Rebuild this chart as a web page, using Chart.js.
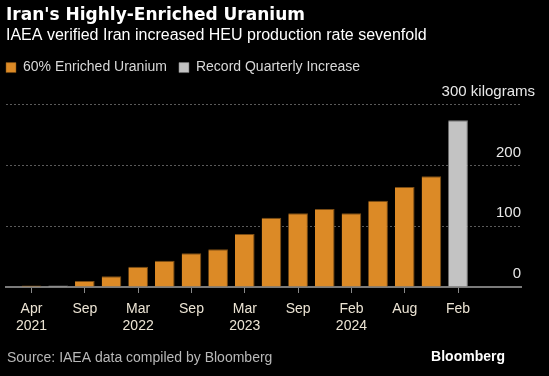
<!DOCTYPE html>
<html>
<head>
<meta charset="utf-8">
<script src="https://cdn.jsdelivr.net/npm/chart.js@4.4.1/dist/chart.umd.min.js"></script>
<style>
  html, body { margin: 0; padding: 0; background: #000; }
  #wrap { width: 549px; height: 376px; position: relative; }
  canvas { display: block; }
</style>
</head>
<body>
<div id="wrap"><canvas id="c" width="549" height="376"></canvas></div>
<script>
// ---- data ----
const periods = ["Apr 2021","Jun 2021","Sep 2021","Nov 2021","Mar 2022","May 2022","Sep 2022","Nov 2022",
                 "Mar 2023","May 2023","Sep 2023","Nov 2023","Feb 2024","May 2024","Aug 2024","Oct 2024","Feb 2025"];
const enriched = [2.4, null, 10, 17.7, 33.2, 43.1, 55.6, 62.3, 87.5, 114.1, 121.6, 128.3, 121.5, 142.1, 164.7, 182.3, null];
const recordIncrease = [null, 2.6, null, null, null, null, null, null, null, null, null, null, null, null, null, null, 274.8];
const tickIndex = [0, 2, 4, 6, 8, 10, 12, 14, 16];
const tickLabels = [["Apr","2021"],"Sep",["Mar","2022"],"Sep",["Mar","2023"],"Sep",["Feb","2024"],"Aug","Feb"];
const yTicks = [0, 100, 200, 300];
const yUnit = "kilograms";

const FONT = "'Liberation Sans', Arial, sans-serif";
const toPts = arr => arr.map((v, i) => ({ x: i, y: v }));

const footer = {
  id: 'footer',
  afterDraw(chart) {
    const ctx = chart.ctx;
    ctx.save();
    ctx.textBaseline = 'middle';
    ctx.font = "14px " + FONT;
    ctx.fillStyle = '#b8b8b8';
    ctx.textAlign = 'left';
    ctx.fillText('Source: IAEA data compiled by Bloomberg', 7, 358);
    ctx.font = "bold 14px " + FONT;
    ctx.fillStyle = '#ffffff';
    ctx.textAlign = 'right';
    ctx.fillText('Bloomberg', 505, 357);
    ctx.restore();
  }
};

new Chart(document.getElementById('c'), {
  type: 'bar',
  data: {
    datasets: [
      { label: '60% Enriched Uranium', data: toPts(enriched), backgroundColor: '#dc8a26',
        borderColor: '#7a4c14', borderWidth: {top:1, right:1, left:0, bottom:0}, grouped: false,
        barPercentage: 0.92, categoryPercentage: 0.8, xAxisID: 'x', yAxisID: 'y' },
      { label: 'Record Quarterly Increase', data: toPts(recordIncrease), backgroundColor: '#c3c3c3',
        borderColor: '#7d7d7d', borderWidth: {top:1, right:1, left:0, bottom:0}, grouped: false,
        barPercentage: 0.92, categoryPercentage: 0.8, xAxisID: 'x', yAxisID: 'y' }
    ]
  },
  options: {
    responsive: false,
    animation: false,
    layout: { padding: { left: -6, right: 14, top: 0, bottom: 39 } },
    plugins: {
      tooltip: { enabled: false },
      title: { display: true, fullSize: false, text: "Iran's Highly-Enriched Uranium", align: 'start', color: '#ffffff',
               font: { family: "'DejaVu Sans', sans-serif", size: 17, weight: 'bold' }, padding: { top: 5, bottom: 1 } },
      subtitle: { display: true, fullSize: false, text: 'IAEA verified Iran increased HEU production rate sevenfold', align: 'start',
                  color: '#ffffff', font: { family: FONT, size: 16 }, padding: { top: 0, bottom: 3 } },
      legend: { display: true, position: 'top', align: 'start',
                labels: { color: '#d8d8d8', font: { family: FONT, size: 14 }, boxWidth: 10, boxHeight: 10,
                          padding: 12 } }
    },
    scales: {
      x: {
        type: 'linear', min: -0.957, max: 18.36, offset: false,
        afterBuildTicks: s => { s.ticks = tickIndex.map(v => ({ value: v })); },
        afterFit: s => { s.height = 50; },
        ticks: { color: '#ece4d4', font: { family: FONT, size: 14 }, padding: 8, maxRotation: 0, autoSkip: false,
                 callback: (v) => { const k = tickIndex.indexOf(v); return k >= 0 ? tickLabels[k] : ''; } },
        grid: { display: true, offset: false, drawOnChartArea: false, drawTicks: true, tickLength: 6, color: '#8a8a8a', lineWidth: 1 },
        border: { display: true, color: '#7a7a7a', width: 2 }
      },
      y: {
        position: 'right', weight: 0, min: 0, max: 333.4,
        afterBuildTicks: s => { s.ticks = yTicks.map(v => ({ value: v })); },
        afterFit: s => { s.width = 14; },
        ticks: { mirror: true, color: '#e8e8e8', font: { family: FONT, size: 15 }, padding: 0, labelOffset: -13,
                 callback: v => (v === yTicks[yTicks.length - 1] ? '' : v) },
        grid: { drawTicks: false, color: ctx => ctx.tick && ctx.tick.value === 0 ? 'rgba(0,0,0,0)' : '#5a5a5a',
                lineWidth: 1 },
        border: { display: false, dash: [2, 2] }
      },
      y2: {
        position: 'right', weight: 1, min: 0, max: 333.4,
        afterBuildTicks: s => { s.ticks = [{ value: yTicks[yTicks.length - 1] }]; },
        afterFit: s => { s.width = 0; },
        ticks: { mirror: true, color: '#e8e8e8', font: { family: FONT, size: 15 }, padding: 0, labelOffset: -13,
                 callback: v => v + ' ' + yUnit },
        grid: { display: false, drawTicks: false },
        border: { display: false }
      },
      pad: {
        type: 'linear', position: 'left', display: true,
        afterFit: s => { s.width = 12; },
        ticks: { display: false }, grid: { display: false, drawTicks: false }, border: { display: false }
      }
    }
  },
  plugins: [footer]
});
</script>
</body>
</html>
